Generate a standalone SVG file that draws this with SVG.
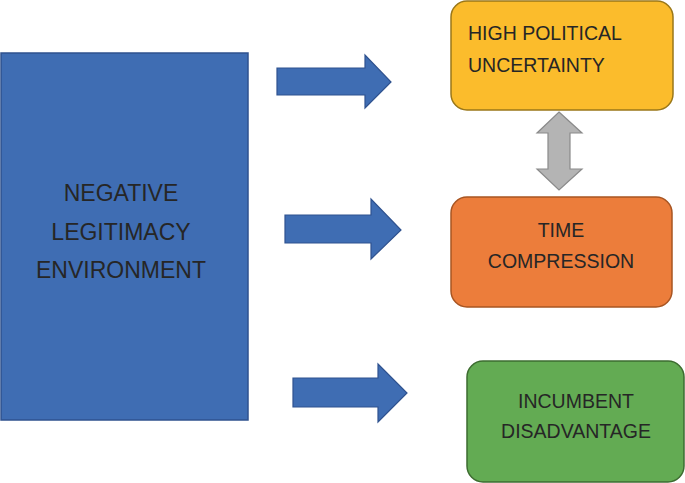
<svg xmlns="http://www.w3.org/2000/svg" width="685" height="483" viewBox="0 0 685 483">
<style>
.lbl{font-family:"Liberation Sans","Open Sans",Arial,sans-serif;fill:#262626;}
.big{font-size:23px;}
.sm{font-size:19.5px;}
.barrow{fill:#3F6DB3;stroke:#2F528F;stroke-width:1.2;stroke-linejoin:miter;}
</style>
<rect width="685" height="483" fill="#ffffff"/>
<g id="connectors">
<polygon class="barrow" points="277,68 365,68 365,55 391,82 365,108 365,95 277,95"/>
<polygon class="barrow" points="285,215 371,215 371,199 401,230 371,259 371,243 285,243"/>
<polygon class="barrow" points="293,378 378,378 378,364 407,393 378,422 378,407 293,407"/>
<polygon points="559,112 582,133 570,133 570,169 582,169 559,190 537,169 548,169 548,133 537,133" fill="#B4B4B4" stroke="#8A8A8A" stroke-width="1.2"/>
</g>
<g id="negative-legitimacy">
<rect x="1" y="53" width="247" height="367" fill="#3F6DB3" stroke="#2F528F" stroke-width="1.5"/>
<text class="lbl big" text-anchor="middle" x="121" y="201">NEGATIVE</text>
<text class="lbl big" text-anchor="middle" x="121" y="240">LEGITIMACY</text>
<text class="lbl big" text-anchor="middle" x="121" y="278">ENVIRONMENT</text>
</g>
<g id="high-political-uncertainty">
<rect x="451" y="1" width="222" height="109" rx="16" fill="#FBBC2C" stroke="#9A7718" stroke-width="1.5"/>
<text class="lbl sm" x="468" y="40">HIGH POLITICAL</text>
<text class="lbl sm" x="468" y="72">UNCERTAINTY</text>
</g>
<g id="time-compression">
<rect x="451" y="197" width="221" height="110" rx="16" fill="#EC7D3B" stroke="#A85522" stroke-width="1.5"/>
<text class="lbl sm" text-anchor="middle" x="561" y="237">TIME</text>
<text class="lbl sm" text-anchor="middle" x="561" y="268">COMPRESSION</text>
</g>
<g id="incumbent-disadvantage">
<rect x="467" y="361" width="217" height="121" rx="16" fill="#63AB53" stroke="#3D6C30" stroke-width="1.5"/>
<text class="lbl sm" text-anchor="middle" x="576" y="408">INCUMBENT</text>
<text class="lbl sm" text-anchor="middle" x="576" y="438">DISADVANTAGE</text>
</g>
</svg>
